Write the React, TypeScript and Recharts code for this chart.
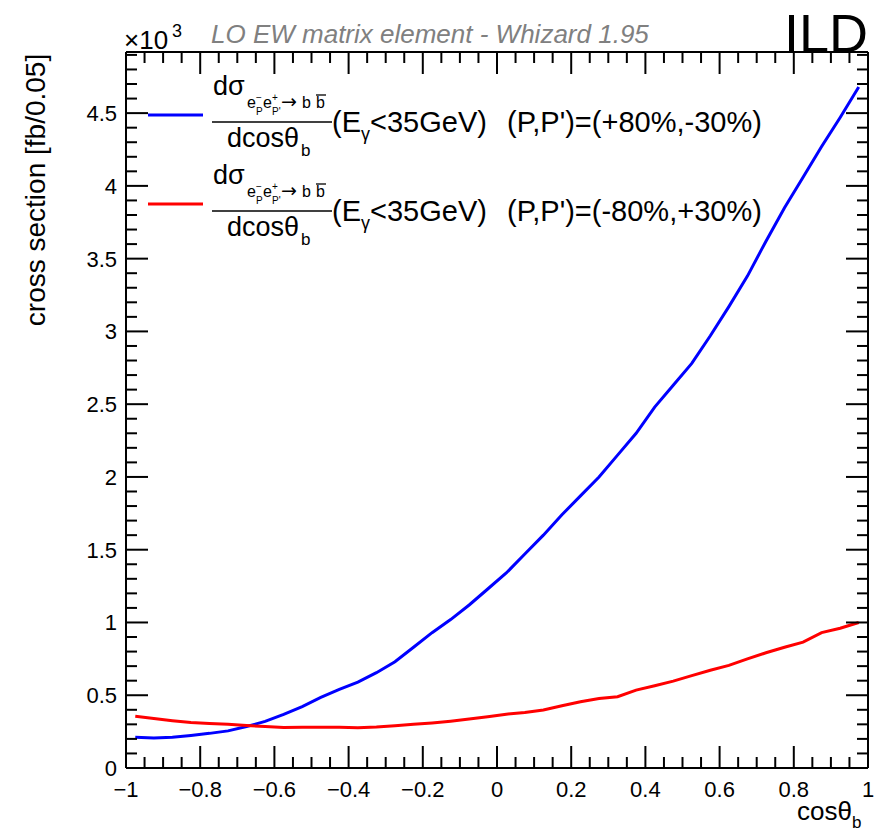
import { LineChart, Line, XAxis, YAxis } from "recharts";

const FONT = "'Liberation Sans', Arial, Helvetica, sans-serif";

// bin centres of cos(theta_b), bin width 0.05
const cosTheta = [
  -0.975, -0.925, -0.875, -0.825, -0.775, -0.725, -0.675, -0.625, -0.575, -0.525,
  -0.475, -0.425, -0.375, -0.325, -0.275, -0.225, -0.175, -0.125, -0.075, -0.025,
  0.025, 0.075, 0.125, 0.175, 0.225, 0.275, 0.325, 0.375, 0.425, 0.475,
  0.525, 0.575, 0.625, 0.675, 0.725, 0.775, 0.825, 0.875, 0.925, 0.975,
];

// (P,P') = (+80%,-30%)  [x10^3 fb/0.05]
const xsecPlus80 = [
  0.212, 0.207, 0.212, 0.224, 0.238, 0.255, 0.285, 0.32, 0.368, 0.422,
  0.485, 0.54, 0.59, 0.655, 0.73, 0.83, 0.93, 1.02, 1.12, 1.23,
  1.34, 1.47, 1.6, 1.74, 1.87, 2.0, 2.15, 2.3, 2.48, 2.63,
  2.78, 2.97, 3.17, 3.38, 3.62, 3.85, 4.06, 4.27, 4.47, 4.68,
];

// (P,P') = (-80%,+30%)
const xsecMinus80 = [
  0.355, 0.34, 0.325, 0.312, 0.305, 0.3, 0.292, 0.285, 0.278, 0.28,
  0.28, 0.28, 0.277, 0.282, 0.29, 0.3, 0.31, 0.322, 0.336, 0.352,
  0.37, 0.382, 0.398, 0.428, 0.455, 0.478, 0.49, 0.535, 0.565, 0.597,
  0.635, 0.672, 0.705, 0.75, 0.792, 0.83, 0.865, 0.93, 0.96, 1.0,
];

const xMajorTicks = [-1, -0.8, -0.6, -0.4, -0.2, 0, 0.2, 0.4, 0.6, 0.8, 1];
const yMajorTicks = [0, 0.5, 1, 1.5, 2, 2.5, 3, 3.5, 4, 4.5];
const xAllTicks = Array.from({ length: 41 }, (_, i) => ((i - 20) * 5) / 100);
const yAllTicks = Array.from({ length: 50 }, (_, i) => i / 10);

const BLUE = "#0000ff";
const RED = "#ff0000";

const rows = cosTheta.map((c, i) => ({ cos: c, plus: xsecPlus80[i], minus: xsecMinus80[i] }));

const near = (list: number[], v: number) => list.some((t) => Math.abs(t - v) < 1e-6);
const fmt = (v: number) => String(Number(v.toFixed(1))).replace("-", "\u2212");

const MAJOR = 22;
const MINOR = 11;

function BottomTick(props: any) {
  const { x, y, payload } = props;
  const major = near(xMajorTicks, payload.value);
  return (
    <g>
      <line x1={x} x2={x} y1={y} y2={y - (major ? MAJOR : MINOR)} stroke="#000" strokeWidth={2} />
      {major && (
        <text x={x} y={y + 29} textAnchor="middle" fontSize={22} fontFamily={FONT} fill="#000">
          {fmt(payload.value)}
        </text>
      )}
    </g>
  );
}

function TopTick(props: any) {
  const { x, y, payload } = props;
  const major = near(xMajorTicks, payload.value);
  return <line x1={x} x2={x} y1={y} y2={y + (major ? MAJOR : MINOR)} stroke="#000" strokeWidth={2} />;
}

function LeftTick(props: any) {
  const { x, y, payload } = props;
  const major = near(yMajorTicks, payload.value);
  return (
    <g>
      <line x1={x} x2={x + (major ? MAJOR : MINOR)} y1={y} y2={y} stroke="#000" strokeWidth={2} />
      {major && (
        <text x={x - 9} y={y + 8} textAnchor="end" fontSize={22} fontFamily={FONT} fill="#000">
          {fmt(payload.value)}
        </text>
      )}
    </g>
  );
}

function RightTick(props: any) {
  const { x, y, payload } = props;
  const major = near(yMajorTicks, payload.value);
  return <line x1={x} x2={x - (major ? MAJOR : MINOR)} y1={y} y2={y} stroke="#000" strokeWidth={2} />;
}

function LegendEntry({ dy, color, pol }: { dy: number; color: string; pol: string }) {
  return (
    <g transform={`translate(0, ${dy})`} fontFamily={FONT} fill="#000">
      <line x1={148} x2={203} y1={115} y2={115} stroke={color} strokeWidth={3} />
      <text x={213} y={95} fontSize={27}>dσ</text>
      <text x={247} y={108} fontSize={16}>e</text>
      <text x={256} y={101} fontSize={10}>−</text>
      <text x={256} y={115} fontSize={10}>P</text>
      <text x={263} y={108} fontSize={16}>e</text>
      <text x={272} y={101} fontSize={10}>+</text>
      <text x={272} y={115} fontSize={10}>P'</text>
      <text x={281} y={108} fontSize={19} fontFamily="'DejaVu Sans', sans-serif">→</text>
      <text x={302} y={108} fontSize={16}>b</text>
      <text x={316} y={108} fontSize={16}>b</text>
      <line x1={316} x2={326} y1={95} y2={95} stroke="#000" strokeWidth={1.3} />
      <line x1={212} x2={332} y1={122} y2={122} stroke="#000" strokeWidth={1.5} />
      <text x={227} y={147} fontSize={27}>dcosθ</text>
      <text x={301} y={156} fontSize={17}>b</text>
      <text x={332} y={132} fontSize={29}>
        (E<tspan dy={8} fontSize={18}>γ</tspan>
        <tspan dy={-8}>&lt;35GeV)</tspan>
      </text>
      <text x={507} y={132} fontSize={29}>{pol}</text>
    </g>
  );
}

export default function App() {
  return (
    <div style={{ position: "absolute", left: 0, top: 0, width: 876, height: 833, background: "#fff" }}>
      <LineChart width={876} height={833} data={rows} margin={{ top: 51, right: 7, bottom: 25, left: 66 }}>
        <XAxis
          xAxisId="b"
          type="number"
          dataKey="cos"
          domain={[-1, 1]}
          allowDataOverflow
          ticks={xAllTicks}
          interval={0}
          tickSize={0}
          tickMargin={0}
          tickLine={false}
          tick={BottomTick}
          axisLine={{ stroke: "#000", strokeWidth: 2 }}
          height={40}
        />
        <XAxis
          xAxisId="t"
          orientation="top"
          type="number"
          dataKey="cos"
          domain={[-1, 1]}
          allowDataOverflow
          ticks={xAllTicks}
          interval={0}
          tickSize={0}
          tickMargin={0}
          tickLine={false}
          tick={TopTick}
          axisLine={{ stroke: "#000", strokeWidth: 2 }}
          height={1}
        />
        <YAxis
          yAxisId="l"
          type="number"
          domain={[0, 4.92]}
          allowDataOverflow
          ticks={yAllTicks}
          interval={0}
          tickSize={0}
          tickMargin={0}
          tickLine={false}
          tick={LeftTick}
          axisLine={{ stroke: "#000", strokeWidth: 2 }}
          width={60}
        />
        <YAxis
          yAxisId="r"
          orientation="right"
          type="number"
          domain={[0, 4.92]}
          allowDataOverflow
          ticks={yAllTicks}
          interval={0}
          tickSize={0}
          tickMargin={0}
          tickLine={false}
          tick={RightTick}
          axisLine={{ stroke: "#000", strokeWidth: 2 }}
          width={1}
        />
        <Line xAxisId="b" yAxisId="l" type="linear" dataKey="plus" stroke={BLUE} strokeWidth={3} dot={false} isAnimationActive={false} />
        <Line xAxisId="b" yAxisId="l" type="linear" dataKey="minus" stroke={RED} strokeWidth={3} dot={false} isAnimationActive={false} />
        <Line xAxisId="t" yAxisId="r" type="linear" dataKey="plus" stroke="none" dot={false} isAnimationActive={false} legendType="none" />
      </LineChart>
      <svg width={876} height={833} style={{ position: "absolute", left: 0, top: 0, pointerEvents: "none" }}>
        <text x={211} y={43} fontSize={26} fontStyle="italic" fill="#808080" fontFamily={FONT}>
          LO EW matrix element - Whizard 1.95
        </text>
        <text x={868} y={52} fontSize={54} textAnchor="end" fill="#000" fontFamily={FONT}>ILD</text>
        <text x={124} y={49} fontSize={26} fill="#000" fontFamily={FONT}>×10</text>
        <text x={172} y={37} fontSize={18} fill="#000" fontFamily={FONT}>3</text>
        <text
          x={45}
          y={190}
          transform="rotate(-90 45 190)"
          textAnchor="middle"
          fontSize={28}
          fill="#000"
          fontFamily={FONT}
        >
          cross section [fb/0.05]
        </text>
        <text x={852} y={820} fontSize={26} textAnchor="end" fill="#000" fontFamily={FONT}>cosθ</text>
        <text x={852} y={828} fontSize={17} fill="#000" fontFamily={FONT}>b</text>
        <LegendEntry dy={0} color={BLUE} pol="(P,P')=(+80%,-30%)" />
        <LegendEntry dy={89} color={RED} pol="(P,P')=(-80%,+30%)" />
      </svg>
    </div>
  );
}
